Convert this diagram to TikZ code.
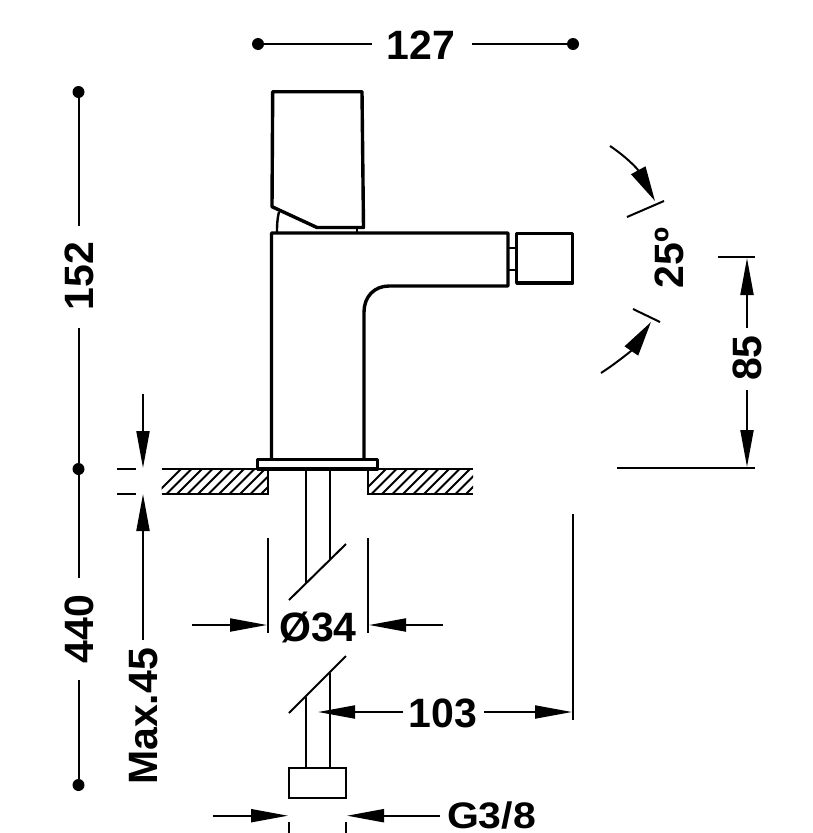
\documentclass[tikz,border=0pt]{standalone}
\usepackage{graphicx}
\usepackage{fontspec}
\setmainfont{Liberation Sans}
\usetikzlibrary{arrows.meta}
\tikzset{
 outline/.style={line width=3.4pt,line join=round,line cap=round},
 mid/.style={line width=2.4pt,line join=round},
 thin/.style={line width=2pt},
 hatchline/.style={line width=1.8pt},
 dim/.style={line width=2pt,-{Triangle[length=37pt,width=13pt]}},
 plain/.style={line width=2pt},
 label/.style={font=\bfseries\fontsize{41}{41}\selectfont,inner sep=0pt},
 dot/.style={circle,fill=black,inner sep=0pt,minimum size=12pt}
}
\begin{document}
\begin{tikzpicture}[x=1pt,y=-1pt]
\useasboundingbox (0,0) rectangle (813,833);
% handle
\draw[outline] (272.7,91.7) -- (362,91.7) -- (363.5,227.5) -- (317,227.5) -- (272,206.7) -- cycle;
\draw[mid] (279,212) .. controls (277,220) and (277,226) .. (277,233);
\draw[mid] (357,228) -- (357,233);
% body
\draw[outline] (364,459) -- (364,312) .. controls (364,297) and (374,286) .. (389,286) -- (508,286) -- (508,233) -- (271.5,233) -- (271.5,459);
% spray
\draw[outline] (516.7,233.5) rectangle (572.7,283);
\draw[mid] (508,248) -- (516.7,248) (508,270) -- (516.7,270);
% flange
\draw[outline] (257.7,459.5) rectangle (377.7,468.8);
% hatch
\begin{scope}
\clip (161.7,469) rectangle (267.7,494);
\foreach \i in {0,...,12}{\draw[hatchline] (150+\i*10.5,500) -- (190+\i*10.5,460);}
\end{scope}
\begin{scope}
\clip (368,469) rectangle (473,494);
\foreach \i in {0,...,12}{\draw[hatchline] (355+\i*10.5,500) -- (395+\i*10.5,460);}
\end{scope}
\draw[thin] (161.7,494) -- (267.7,494) -- (267.7,469);
\draw[thin] (473,494) -- (368,494) -- (368,469);
\draw[thin] (161.7,469) -- (258,469) (378,469) -- (473,469);
% pipe
\draw[thin] (305.7,469) -- (305.7,583) (329.7,469) -- (329.7,560);
\draw[thin] (289,600) -- (346,544);
\draw[thin] (289,713) -- (346,656);
\draw[thin] (305.7,697) -- (305.7,768) (329.7,673) -- (329.7,768);
\draw[thin] (289,768) rectangle (346,798);
% top 127
\node[dot] (da) at (258,44) {};
\node[dot] (db) at (573,44) {};
\node[label] (t127) at (421,45) {127};
\coordinate (a1) at (372,44); \coordinate (a2) at (472,44);
\draw[plain] (da) -- (a1) (a2) -- (db);
% left
\node[dot] (dc) at (78.5,92) {};
\node[dot] (dd) at (78.5,469) {};
\node[dot] (de) at (78.5,785) {};
\node[label,rotate=90] (t152) at (79,276) {152};
\node[label,rotate=90] (t440) at (79,629) {440};
\coordinate (b1) at (78.5,226); \coordinate (b2) at (78.5,328);
\coordinate (b3) at (78.5,578); \coordinate (b4) at (78.5,680);
\draw[plain] (dc) -- (b1) (b2) -- (dd) -- (b3) (b4) -- (de);
% max 45
\coordinate (c0) at (143,394); \coordinate (c1) at (143,468);
\coordinate (c2) at (143,640); \coordinate (c3) at (143,494);
\draw[dim] (c0) -- (c1);
\draw[dim] (c2) -- (c3);
\draw[plain] (117,469) -- (136,469) (117,494) -- (136,494);
\node[label,rotate=90] (tmax) at (144,716.5) {Max.45};
% dia 34
\draw[plain] (267.5,538) -- (267.5,633) (367.5,538) -- (367.5,633);
\coordinate (e0) at (192,625); \coordinate (e1) at (267,625);
\coordinate (e2) at (443,625); \coordinate (e3) at (369,625);
\draw[dim] (e0) -- (e1);
\draw[dim] (e2) -- (e3);
\node[label] (t34) at (318,627) {Ø34};
% 103
\node[label] (t103) at (443,713) {103};
\coordinate (f0) at (403,712); \coordinate (f1) at (318,712);
\coordinate (f2) at (484,712); \coordinate (f3) at (572,712);
\draw[dim] (f0) -- (f1);
\draw[dim] (f2) -- (f3);
\draw[plain] (573,514) -- (573,720);
% G3/8
\node[label] (tg) at (491.5,815) {\scalebox{1}[0.9]{G3/8}};
\coordinate (g0) at (213,815.7); \coordinate (g1) at (288,815.7);
\coordinate (g2) at (440,815.7); \coordinate (g3) at (347,815.7);
\draw[dim] (g0) -- (g1);
\draw[dim] (g2) -- (g3);
\draw[plain] (289,822) -- (289,833) (346,822) -- (346,833);
% angle
\draw[line width=2pt,-{Triangle[length=35pt,width=16pt]}] (610,146) .. controls (625,156) and (637,168) .. (655,201);
\draw[plain] (627,217) -- (664,201);
\draw[line width=2pt,-{Triangle[length=35pt,width=16pt]}] (601,373) .. controls (618,362) and (632,350) .. (651,322);
\draw[plain] (633,309) -- (660,322);
\node[label,rotate=90] (t25) at (669,258) {25º};
% 85
\draw[plain] (718,257) -- (755,257);
\draw[plain] (617,468) -- (755,468);
\node[label,rotate=90] (t85) at (747,358) {85};
\coordinate (h0) at (747,328); \coordinate (h1) at (747,258);
\coordinate (h2) at (747,390); \coordinate (h3) at (747,467);
\draw[dim] (h0) -- (h1);
\draw[dim] (h2) -- (h3);
\end{tikzpicture}
\end{document}
